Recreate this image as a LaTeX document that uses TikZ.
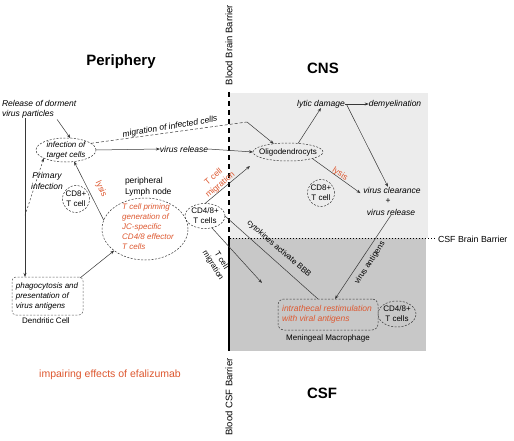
\documentclass[tikz,border=0pt]{standalone}
\usepackage{fontspec}
\setmainfont{Liberation Sans}
\usetikzlibrary{shapes.geometric,arrows.meta,calc}
\definecolor{redt}{RGB}{222,88,48}
\definecolor{lgrey}{RGB}{236,236,236}
\definecolor{dgrey}{RGB}{200,200,200}
\definecolor{lin}{RGB}{55,55,55}
\begin{document}
\begin{tikzpicture}[x=1pt,y=-1pt,
  every node/.style={inner sep=0pt, outer sep=0pt},
  txt/.style={font=\fontsize{8.5}{10.5}\selectfont, align=center},
  itx/.style={font=\fontsize{8.5}{10.5}\selectfont\itshape, align=center},
  smt/.style={font=\fontsize{8}{10}\selectfont, align=center},
  smi/.style={font=\fontsize{8}{10}\selectfont\itshape, align=center},
  redtxt/.style={text=redt},
  title/.style={font=\fontsize{15}{17}\selectfont\bfseries},
  barr/.style={font=\fontsize{9.5}{11}\selectfont},
  dell/.style={draw=lin, dash pattern=on 2pt off 1.5pt, ellipse, line width=0.5pt},
  dcirc/.style={draw=lin, dash pattern=on 2pt off 1.5pt, circle, line width=0.5pt, minimum size=27pt},
  conn/.style={draw=lin, line width=0.5pt},
  arr/.style={conn, -{Stealth[length=4pt,width=3pt]}},
]
\fill[white] (0,0) rectangle (514,441);
\useasboundingbox (0,0) rectangle (514,441);

% compartments
\fill[lgrey] (230,93) rectangle (428,238);
\fill[dgrey] (230,238) rectangle (426,351);
\draw[black, line width=1.2pt, dash pattern=on 5pt off 4pt] (229,92) -- (229,238);
\draw[black, line width=1.2pt] (229,238) -- (229,351);
\draw[black, line width=1pt, dotted] (230,238) -- (436,238);
\node[font=\fontsize{8.8}{10}\selectfont, anchor=west] (csfbb) at (438,239) {CSF Brain Barrier};
\node[barr, rotate=90] (bbb) at (229,45) {Blood Brain Barrier};
\node[barr, rotate=90] (bcsf) at (229,397) {Blood CSF Barrier};

% titles
\node[title] (per) at (121,62) {Periphery};
\node[title] (cns) at (323,68) {CNS};
\node[title] (csf) at (322,393) {CSF};

% periphery
\node[itx, align=left, anchor=north west] (rel) at (2,100) {Release of dorment\\virus particles};
\node[dell, minimum width=60pt, minimum height=24pt] (inf) at (66,150) {};
\node[smi] (inft) at (inf) {infection of\\target cells};
\node[itx] (prim) at (47,181) {Primary\\infection};
\node[dcirc] (cd8p) at (76,199) {};
\node[smt] (cd8pt) at (cd8p) {CD8+\\T cell};
\node[txt, align=left, anchor=west] (lymph) at (125,187) {peripheral\\Lymph node};
\node[dell, minimum width=86pt, minimum height=62pt] (tcp) at (145,229) {};
\node[smi, redtxt, align=left] (tcpt) at (148,227) {T cell priming\\generation of\\JC-specific\\CD4/8 effector\\T cells};
\node[dell, minimum width=40pt, minimum height=25pt] (cd48) at (205,216) {};
\node[smt] (cd48t) at (cd48) {CD4/8+\\T cells};
\node[draw=lin!80, dash pattern=on 2pt off 1.5pt, rounded corners=4pt, line width=0.5pt,
      minimum width=71pt, minimum height=38pt] (phag) at (47.5,296) {};
\node[smi, align=left] (phagt) at (47,296) {phagocytosis and\\presentation of\\virus antigens};
\node[smt] (dc) at (46,321) {Dendritic Cell};
\node[font=\fontsize{10.5}{12}\selectfont, text=redt] (efa) at (110,375) {impairing effects of efalizumab};

% CNS
\node[dell, minimum width=70pt, minimum height=18pt] (oli) at (288,152) {};
\node[smt] (olit) at (oli) {Oligodendrocyts};
\node[itx] (vr) at (184,149) {virus release};
\node[itx, rotate=9.5] (migl) at (170,127) {migration of infected cells};
\coordinate (mc) at (247,122);
\node[itx] (ld) at (321,104) {lytic damage};
\node[itx] (dem) at (395,104) {demyelination};
\node[itx] (vc) at (392,190) {virus clearance};
\node[txt] (plus) at (388,201) {+};
\node[itx] (vrel2) at (391,212) {virus release};
\node[dcirc] (cd8c) at (321,193) {};
\node[smt] (cd8ct) at (cd8c) {CD8+\\T cell};

% CSF
\node[draw=lin, dash pattern=on 2pt off 1.5pt, rounded corners=6pt, line width=0.5pt,
      minimum width=100pt, minimum height=31pt] (ith) at (328,314.5) {};
\node[itx, redtxt, align=left] (itht) at (327,314.5) {intrathecal restimulation\\with viral antigens};
\node[smt] (mm) at (328,338) {Meningeal Macrophage};
\node[dell, minimum width=38pt, minimum height=26pt] (cd48c) at (397,314) {};
\node[smt] (cd48ct) at (cd48c) {CD4/8+\\T cells};

\coordinate (tm1) at (250,166);
\coordinate (tm2) at (262,283);

% connectors
\draw[arr] ($(rel.south west)+(23,0)$) -- ($(phag.north west)+(13,0)$);
\draw[arr] ($(rel.south)+(18,1)$) -- (inf.70);
\draw[arr, dash pattern=on 2pt off 2pt] ($(rel.south west)+(23,97)$) -- (inf.200);
\draw[arr] (tcp.168) -- (inf.-55);
\node[txt, redtxt, rotate=-65] (lys1) at (101,189) {lysis};
\draw[arr] ($(phag.north east)+(-3,1)$) -- (tcp.215);
\draw[arr] (cd48.north) -- (tm1);
\node[txt, redtxt, rotate=40] (tml1) at (217,181) {T cell\\migration};
\draw[arr] (cd48.-60) -- (tm2);
\node[smt, rotate=-58] (tml2) at (217,263) {T cell\\migration};
\draw[conn] (cd48.east) -- ($(ith.north)+(-10,0)$);
\node[smt, rotate=-41] (cyt) at (279,249) {cytokines activate BBB};
\draw[arr] (vrel2.south) -- ($(ith.north)+(7,0)$);
\node[smt, rotate=57] (van) at (370,263) {virus antigens};

\draw[arr] (inf.east) -- (vr.west);
\draw[arr] (vr.east) -- (oli.west);
\draw[conn, dash pattern=on 3pt off 2pt] (inf.15) -- (mc);
\draw[arr] (mc) -- (oli.150);
\draw[arr] ($(oli.north)+(10,0.5)$) -- (ld.south);
\draw[arr] (ld.east) -- (dem.west);
\draw[arr] ($(ld.east)+(2,1)$) -- ($(vc.north)+(-4,0)$);
\draw[arr] (oli.-15) -- ($(vc.south west)+(-3,0)$);
\node[txt, redtxt, rotate=-33] (lys2) at (340,174) {lysis};
\end{tikzpicture}
\end{document}
